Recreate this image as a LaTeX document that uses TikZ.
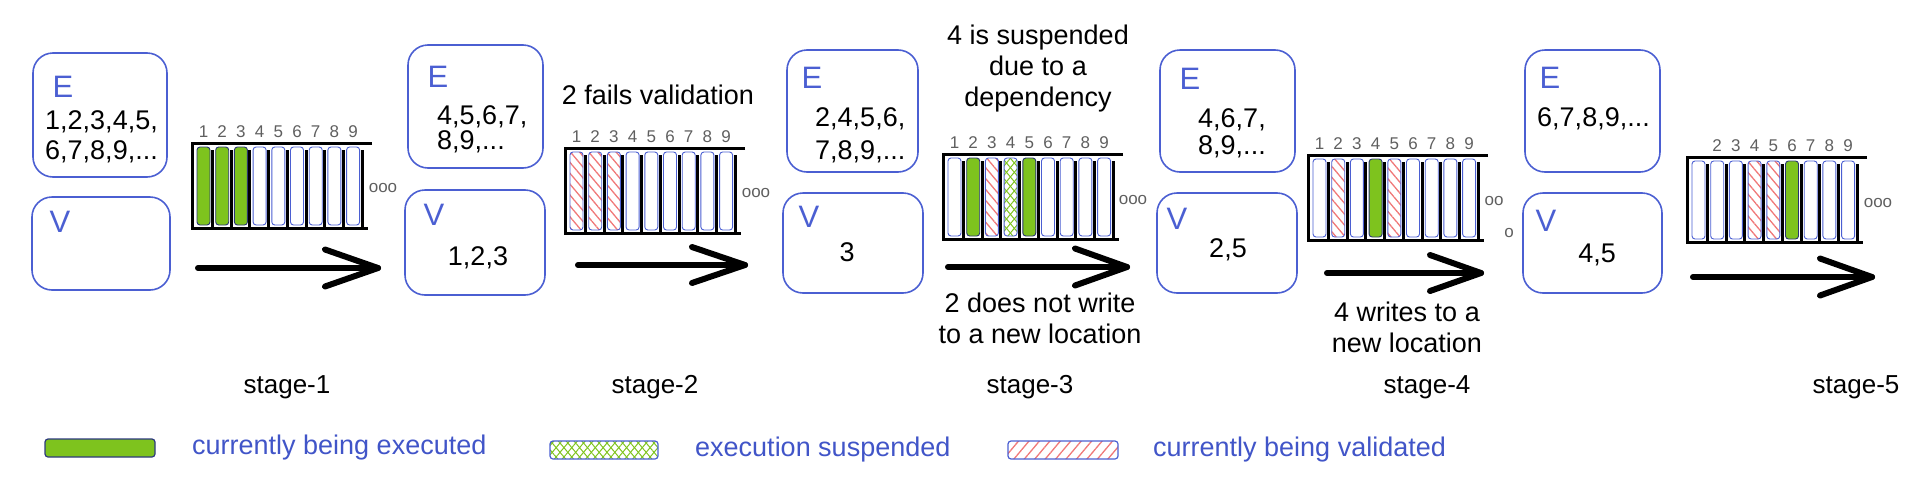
\documentclass[tikz,border=0pt]{standalone}
\usepackage{fontspec}
\setmainfont{Liberation Sans}
\usetikzlibrary{calc,patterns.meta}
\definecolor{boxblue}{RGB}{75,95,210}
\definecolor{txtblue}{RGB}{65,85,200}
\definecolor{cgreen}{RGB}{126,195,30}
\definecolor{hred}{RGB}{240,120,120}
\definecolor{numgray}{RGB}{95,95,95}
\newcommand\fsz[1]{\fontsize{#1}{#1}\selectfont}
\newcommand\stagebar[4]{%
  \coordinate (#1TL) at (#2,#3);
  \coordinate (#1TR) at (#2+180,#3);
  \coordinate (#1BL) at (#2,#3+85);
  \coordinate (#1BR) at (#2+176,#3+85);
  \draw[frame] (#1TR) -- (#1TL) -- (#1BL) -- (#1BR);
  \foreach \i/\st/\lab in {#4} {
    \pgfmathsetmacro\cx{#2+5+18.7*(\i-1)+6.5}
    \coordinate (#1s\i) at (\cx+9,#3+7);
    \coordinate (#1e\i) at (\cx+9,#3+85);
    \draw[sepline] (#1s\i) -- (#1e\i);
    \edef\tmpnode{\noexpand\node[cell,\st] (#1c\i) at (\cx,#3+43) {};}\tmpnode
    \node[numlab] (#1n\i) at (\cx,#3-11) {\lab};
  }
}
\begin{document}
\begin{tikzpicture}[x=1pt,y=-1pt,
  frame/.style={line width=3pt, black},
  sepline/.style={line width=3pt, black},
  cell/.style={draw=boxblue, line width=0.9pt, rounded corners=3pt, minimum width=13pt, minimum height=78pt, inner sep=0pt, fill=white},
  wcell/.style={},
  gcell/.style={fill=cgreen, draw=boxblue!55!black},
  hcell/.style={pattern={Lines[angle=-50,distance=7pt,line width=1.3pt]}, pattern color=hred},
  xcell/.style={preaction={pattern={Lines[angle=50,distance=6pt,line width=1pt]}, pattern color=cgreen}, pattern={Lines[angle=-50,distance=6pt,line width=1pt]}, pattern color=cgreen},
  ebox/.style={draw=boxblue, line width=1.6pt, rounded corners=20pt, inner sep=0pt},
  evlab/.style={font=\fsz{31}, text=boxblue, inner sep=0pt},
  etxt/.style={font=\fsz{27}, inner sep=0pt, anchor=west},
  vtxt/.style={font=\fsz{27}, inner sep=0pt},
  numlab/.style={font=\fsz{17}, text=numgray, inner sep=0pt},
  dots/.style={font=\fsz{17}, text=numgray, inner sep=0pt},
  captxt/.style={font=\fontsize{27}{31}\selectfont, align=center, inner sep=0pt},
  stagelab/.style={font=\fsz{26}, inner sep=0pt},
  legtxt/.style={font=\fsz{27}, text=txtblue, inner sep=0pt, anchor=west},
  arrowline/.style={line width=6pt, line cap=round, line join=round},
  legbar/.style={draw=boxblue, line width=1.2pt, rounded corners=3pt, minimum height=18pt, inner sep=0pt}
]
\useasboundingbox (0,0) rectangle (1928,485);

% ---------- stage 1 ----------
\node[ebox, minimum width=134pt, minimum height=124pt] (E1) at (100,115) {};
\node[ebox, minimum width=138pt, minimum height=93pt] (V1) at (101,243.5) {};
\node[evlab] (E1l) at (63,87) {E};
\node[evlab] (V1l) at (60,222) {V};
\node[etxt] (E1a) at (45,122) {1,2,3,4,5,};
\node[etxt] (E1b) at (45,152) {6,7,8,9,...};
\stagebar{S1}{192}{143}{1/gcell/1,2/gcell/2,3/gcell/3,4/wcell/4,5/wcell/5,6/wcell/6,7/wcell/7,8/wcell/8,9/wcell/9}
\node[dots] (D1) at (383,188) {ooo};
\coordinate (A1s) at (198,268);
\coordinate (A1e) at (378,268);
\draw[arrowline] (A1s) -- (A1e);
\draw[arrowline] ($(A1e)+(-53,-18.5)$) -- (A1e) -- ($(A1e)+(-53,18.5)$);
\node[stagelab] (L1) at (287,387) {stage-1};

% ---------- stage 2 ----------
\node[ebox, minimum width=135pt, minimum height=123pt] (E2) at (475.5,106.5) {};
\node[ebox, minimum width=140pt, minimum height=105pt] (V2) at (475,242.5) {};
\node[evlab] (E2l) at (438,77) {E};
\node[evlab] (V2l) at (434,215) {V};
\node[etxt] (E2a) at (437,117) {4,5,6,7,};
\node[etxt] (E2b) at (437,142) {8,9,...};
\node[vtxt] (V2a) at (478,258) {1,2,3};
\node[captxt] (T2) at (658,95) {2 fails validation};
\stagebar{S2}{565}{148}{1/hcell/1,2/hcell/2,3/hcell/3,4/wcell/4,5/wcell/5,6/wcell/6,7/wcell/7,8/wcell/8,9/wcell/9}
\node[dots] (D2) at (756,193) {ooo};
\coordinate (A2s) at (578,265);
\coordinate (A2e) at (745,265);
\draw[arrowline] (A2s) -- (A2e);
\draw[arrowline] ($(A2e)+(-53,-18)$) -- (A2e) -- ($(A2e)+(-53,18)$);
\node[stagelab] (L2) at (655,387) {stage-2};

% ---------- stage 3 ----------
\node[ebox, minimum width=131pt, minimum height=122pt] (E3) at (852.5,111) {};
\node[ebox, minimum width=140pt, minimum height=100pt] (V3) at (853,243) {};
\node[evlab] (E3l) at (812,78) {E};
\node[evlab] (V3l) at (809,217) {V};
\node[etxt] (E3a) at (815,119) {2,4,5,6,};
\node[etxt] (E3b) at (815,152) {7,8,9,...};
\node[vtxt] (V3a) at (847,252) {3};
\node[captxt] (T3) at (1038,69) {4 is suspended\\due to a\\dependency};
\stagebar{S3}{943}{154}{1/wcell/1,2/gcell/2,3/hcell/3,4/xcell/4,5/gcell/5,6/wcell/6,7/wcell/7,8/wcell/8,9/wcell/9}
\node[dots] (D3) at (1133,200) {ooo};
\coordinate (A3s) at (948,267);
\coordinate (A3e) at (1127,267);
\draw[arrowline] (A3s) -- (A3e);
\draw[arrowline] ($(A3e)+(-52,-18.5)$) -- (A3e) -- ($(A3e)+(-52,18.5)$);
\node[captxt] (B3) at (1040,318) {2 does not write\\to a new location};
\node[stagelab] (L3) at (1030,387) {stage-3};

% ---------- stage 4 ----------
\node[ebox, minimum width=135pt, minimum height=122pt] (E4) at (1227.5,111) {};
\node[ebox, minimum width=140pt, minimum height=100pt] (V4) at (1227,243) {};
\node[evlab] (E4l) at (1190,79) {E};
\node[evlab] (V4l) at (1177,219) {V};
\node[etxt] (E4a) at (1198,120) {4,6,7,};
\node[etxt] (E4b) at (1198,147) {8,9,...};
\node[vtxt] (V4a) at (1228,250) {2,5};
\stagebar{S4}{1308}{155}{1/wcell/1,2/hcell/2,3/wcell/3,4/gcell/4,5/hcell/5,6/wcell/6,7/wcell/7,8/wcell/8,9/wcell/9}
\node[dots] (D4a) at (1494,201) {oo};
\node[dots] (D4b) at (1509,233) {o};
\coordinate (A4s) at (1327,273);
\coordinate (A4e) at (1481,273);
\draw[arrowline] (A4s) -- (A4e);
\draw[arrowline] ($(A4e)+(-51,-18)$) -- (A4e) -- ($(A4e)+(-51,18)$);
\node[captxt] (B4) at (1407,327) {4 writes to a\\new location};
\node[stagelab] (L4) at (1427,387) {stage-4};

% ---------- stage 5 ----------
\node[ebox, minimum width=135pt, minimum height=122pt] (E5) at (1592.5,111) {};
\node[ebox, minimum width=139pt, minimum height=100pt] (V5) at (1592.5,243) {};
\node[evlab] (E5l) at (1550,78) {E};
\node[evlab] (V5l) at (1546,221) {V};
\node[etxt] (E5a) at (1537,119) {6,7,8,9,...};
\node[vtxt] (V5a) at (1597,255) {4,5};
\stagebar{S5}{1687}{157}{1/wcell/{},2/wcell/2,3/wcell/3,4/hcell/4,5/hcell/5,6/gcell/6,7/wcell/7,8/wcell/8,9/wcell/9}
\node[dots] (D5) at (1878,203) {ooo};
\coordinate (A5s) at (1693,277);
\coordinate (A5e) at (1872,277);
\draw[arrowline] (A5s) -- (A5e);
\draw[arrowline] ($(A5e)+(-52,-18.5)$) -- (A5e) -- ($(A5e)+(-52,18.5)$);
\node[stagelab] (L5) at (1856,387) {stage-5};

% ---------- legend ----------
\node[legbar, fill=cgreen, draw=boxblue!60!black, minimum width=110pt] (G1) at (100,448) {};
\node[legtxt] (G1t) at (192,448) {currently being executed};
\node[legbar, minimum width=108pt, preaction={pattern={Lines[angle=50,distance=6pt,line width=1pt]}, pattern color=cgreen}, pattern={Lines[angle=-50,distance=6pt,line width=1pt]}, pattern color=cgreen] (G2) at (604,450) {};
\node[legtxt] (G2t) at (695,450) {execution suspended};
\node[legbar, minimum width=110pt, pattern={Lines[angle=50,distance=8pt,line width=1.3pt]}, pattern color=hred] (G3) at (1063,450) {};
\node[legtxt] (G3t) at (1153,450) {currently being validated};
\end{tikzpicture}
\end{document}
